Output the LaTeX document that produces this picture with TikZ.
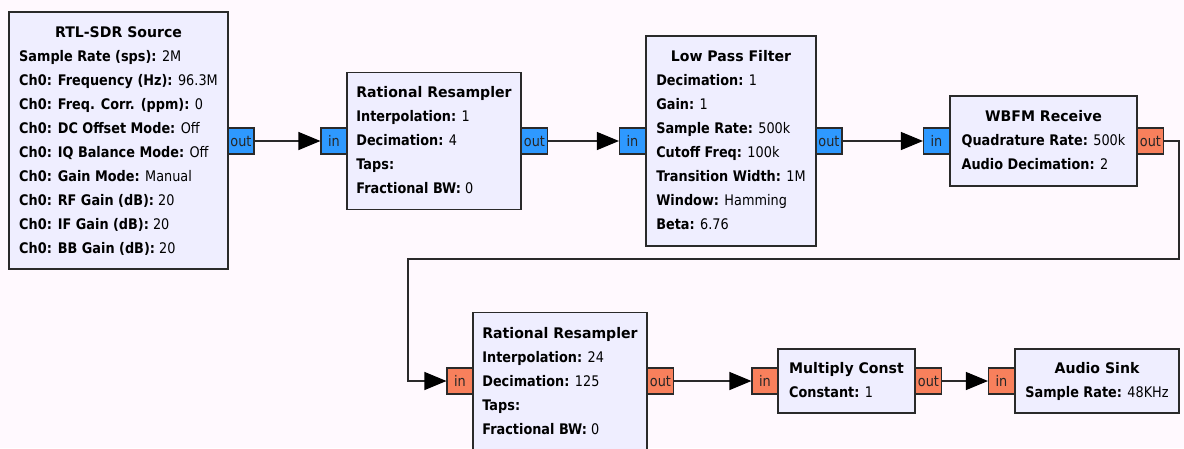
\documentclass[tikz,border=0pt]{standalone}
\usepackage{fontspec}
\setmainfont{DejaVu Sans}[FakeStretch=0.88]
\newfontfamily\titlefont{DejaVu Sans}[FakeStretch=0.965]
\usetikzlibrary{arrows.meta}
\definecolor{bgc}{HTML}{FFF9FE}
\definecolor{blockfill}{HTML}{EFEEFF}
\definecolor{cplx}{HTML}{2E99FF}
\definecolor{flt}{HTML}{F8805C}
\definecolor{edge}{HTML}{2A2A2A}
\newcommand\kv[2]{\textbf{#1:} #2}
\newcommand\blocktext[2]{\begin{tabular}{@{}l@{}}\multicolumn{1}{@{}c@{}}{\titlefont\bfseries #1}\\#2\end{tabular}}
\tikzset{
  block/.style={draw=edge, line width=1.1pt, fill=blockfill, inner sep=0pt,
     font=\fontsize{14.6pt}{24pt}\selectfont, text=black},
  cport/.style={draw=edge, line width=1.1pt, fill=cplx, minimum width=26pt, minimum height=26pt,
     inner sep=0pt, font=\fontsize{14.6pt}{16pt}\selectfont, text=black!85},
  fport/.style={cport, fill=flt},
  conn/.style={draw=edge, line width=1.1pt, -{Triangle[length=22pt,width=18pt,fill=black,color=black]}},
}
\begin{document}
\begin{tikzpicture}[x=1pt,y=-1pt]
\fill[bgc] (0,0) rectangle (1184,448);
\useasboundingbox (0,0) rectangle (1184,448);

% blocks
\node[block, minimum width=219pt, minimum height=257pt] (src) at (118.5,140.5)
  {\blocktext{RTL-SDR Source}{\kv{Sample Rate (sps)}{2M}\\\kv{Ch0: Frequency (Hz)}{96.3M}\\\kv{Ch0: Freq. Corr. (ppm)}{0}\\\kv{Ch0: DC Offset Mode}{Off}\\\kv{Ch0: IQ Balance Mode}{Off}\\\kv{Ch0: Gain Mode}{Manual}\\\kv{Ch0: RF Gain (dB)}{20}\\\kv{Ch0: IF Gain (dB)}{20}\\\kv{Ch0: BB Gain (dB)}{20}}};
\node[block, minimum width=174pt, minimum height=137pt] (rr1) at (434,141)
  {\blocktext{Rational Resampler}{\kv{Interpolation}{1}\\\kv{Decimation}{4}\\\textbf{Taps:}\\\kv{Fractional BW}{0}}};
\node[block, minimum width=170pt, minimum height=210pt] (lpf) at (731,141)
  {\blocktext{Low Pass Filter}{\kv{Decimation}{1}\\\kv{Gain}{1}\\\kv{Sample Rate}{500k}\\\kv{Cutoff Freq}{100k}\\\kv{Transition Width}{1M}\\\kv{Window}{Hamming}\\\kv{Beta}{6.76}}};
\node[block, minimum width=187pt, minimum height=90pt] (wbfm) at (1043.5,141)
  {\blocktext{WBFM Receive}{\kv{Quadrature Rate}{500k}\\\kv{Audio Decimation}{2}}};
\node[block, minimum width=174pt, minimum height=138pt] (rr2) at (560,381.5)
  {\blocktext{Rational Resampler}{\kv{Interpolation}{24}\\\kv{Decimation}{125}\\\textbf{Taps:}\\\kv{Fractional BW}{0}}};
\node[block, minimum width=137pt, minimum height=64pt] (mult) at (846.5,381)
  {\blocktext{Multiply Const}{\kv{Constant}{1}}};
\node[block, minimum width=164pt, minimum height=64pt] (sink) at (1097,381)
  {\blocktext{Audio Sink}{\kv{Sample Rate}{48KHz}}};

% ports
\node[cport] (srcout) at (241,141) {out};
\node[cport] (rr1in) at (334,141) {in};
\node[cport] (rr1out) at (534.5,141) {out};
\node[cport] (lpfin) at (632.5,141) {in};
\node[cport] (lpfout) at (829,141) {out};
\node[cport] (wbfmin) at (936.5,141) {in};
\node[fport] (wbfmout) at (1150.5,141) {out};
\node[fport] (rr2in) at (460,381) {in};
\node[fport] (rr2out) at (660.5,381) {out};
\node[fport] (multin) at (765,381) {in};
\node[fport] (multout) at (928.5,381) {out};
\node[fport] (sinkin) at (1001.5,381) {in};

% connectors
\coordinate (t1) at (1179,259);
\coordinate (t2) at (408,259);
\draw[conn] (srcout.east) -- (rr1in.west);
\draw[conn] (rr1out.east) -- (lpfin.west);
\draw[conn] (lpfout.east) -- (wbfmin.west);
\draw[conn] (wbfmout.east) -| (t1) -- (t2) |- (rr2in.west);
\draw[conn] (rr2out.east) -- (multin.west);
\draw[conn] (multout.east) -- (sinkin.west);
\end{tikzpicture}
\end{document}
